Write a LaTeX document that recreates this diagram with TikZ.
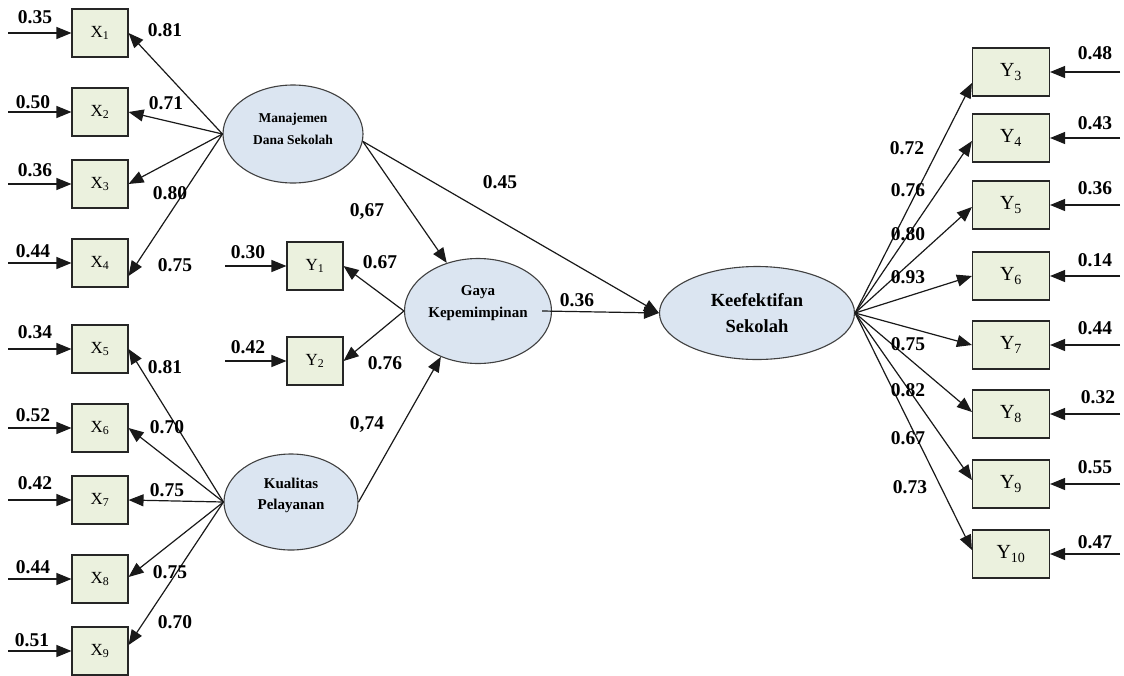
\documentclass[tikz,border=0pt]{standalone}
\usepackage{fontspec}
\setmainfont{Liberation Serif}
\usetikzlibrary{arrows.meta,shapes.geometric,calc}
\definecolor{boxfill}{HTML}{EBF1DE}
\definecolor{ellfill}{HTML}{DBE5F1}
\begin{document}
\begin{tikzpicture}[x=1pt,y=-1pt,
  obs/.style={draw=black!85, fill=boxfill, line width=1.1pt, minimum width=56pt, minimum height=48pt, inner sep=0pt, font=\fontsize{17}{20}\selectfont},
  obsr/.style={obs, minimum width=77pt, font=\fontsize{20}{24}\selectfont},
  lat/.style={ellipse, draw=black!75, fill=ellfill, line width=1.1pt, inner sep=0pt, align=center},
  num/.style={font=\fontsize{19.5}{22}\selectfont\bfseries, inner sep=0pt},
  arr/.style={draw=black!90, line width=1.2pt, -{Triangle[length=15pt,width=12pt]}}
]
\useasboundingbox (0,0) rectangle (1124,675);

% latent variables
\node[lat, minimum width=140pt, minimum height=98pt, font=\fontsize{13.5}{22}\selectfont\bfseries] (mds) at (293,134) {Manajemen\\Dana Sekolah\\[-12pt]~};
\node[lat, minimum width=147pt, minimum height=105pt, font=\fontsize{15}{22}\selectfont\bfseries] (gaya) at (478,311) {Gaya\\Kepemimpinan\\[-4pt]~};
\node[lat, minimum width=134pt, minimum height=96pt, font=\fontsize{15}{21}\selectfont\bfseries] (kp) at (291,502) {Kualitas\\Pelayanan\\[-5pt]~};
\node[lat, minimum width=195pt, minimum height=93pt, font=\fontsize{18.5}{26}\selectfont\bfseries] (keef) at (757,313) {Keefektifan\\Sekolah};

% X indicators
\foreach \i/\y in {1/33,2/112,3/184,4/263,5/349,6/428,7/500,8/579,9/651}{
  \node[obs] (x\i) at (100,\y) {X\textsubscript{\i}};
  \coordinate (ex\i) at (8,\y);
  \draw[arr] (ex\i) -- (x\i.west);
}
% Y1, Y2
\foreach \i/\y in {1/266,2/361}{
  \node[obs] (y\i) at (315,\y) {Y\textsubscript{\i}};
  \coordinate (ey\i) at (225,\y);
  \draw[arr] (ey\i) -- (y\i.west);
}
% Y3..Y10
\foreach \i/\y in {3/72,4/138,5/205,6/276,7/345,8/414,9/484,10/554}{
  \node[obsr] (y\i) at (1011,\y) {Y\textsubscript{\i}};
  \coordinate (ey\i) at (1120,\y);
  \draw[arr] (ey\i) -- (y\i.east);
}

% loadings of Manajemen Dana Sekolah
\foreach \i/\s in {1/0,2/0,3/0,4/13}{
  \draw[arr] (mds.west) -- ($(x\i.east)+(0,\s)$);
}
% loadings of Kualitas Pelayanan
\foreach \i/\s in {5/0,6/0,7/0,8/-2,9/-6}{
  \draw[arr] (kp.west) -- ($(x\i.east)+(0,\s)$);
}
% loadings of Gaya Kepemimpinan
\draw[arr] (gaya.west) -- (y1.east);
\draw[arr] (gaya.west) -- (y2.east);
% loadings of Keefektifan Sekolah
\foreach \i/\s in {3/11,4/3,5/2,6/0,7/0,8/-2,9/-4,10/-4}{
  \draw[arr] (keef.east) -- ($(y\i.west)+(0,\s)$);
}

% structural paths
\draw[arr] (mds.-6) -- (gaya.123);
\draw[arr] (mds.-6) -- (keef.west);
\draw[arr] ($(gaya.east)+(-10,0)$) -- (keef.west);
\draw[arr] (kp.east) -- (gaya.231);

% error labels left
\foreach \n/\x/\y/\t in {a1/35/17/0.35, a2/33/102/0.50, a3/35/170/0.36, a4/33/251/0.44, a5/35/332/0.34, a6/33/415/0.52, a7/35/483/0.42, a8/33/567/0.44, a9/32/640/0.51}{
  \node[num] (\n) at (\x,\y) {\t};
}
% loading labels left
\foreach \n/\x/\y/\t in {b1/165/30/0.81, b2/166/103/0.71, b3/170/193/0.80, b4/175/265/0.75, b5/165/367/0.81, b6/167/427/0.70, b7/167/490/0.75, b8/170/572/0.75, b9/175/622/0.70}{
  \node[num] (\n) at (\x,\y) {\t};
}
% middle labels
\node[num] (c1) at (367,212) {0,67};
\node[num] (c2) at (500,182) {0.45};
\node[num] (c3) at (380,262) {0.67};
\node[num] (c4) at (385,363) {0.76};
\node[num] (c5) at (577,300) {0.36};
\node[num] (c6) at (367,425) {0,74};
\node[num] (c7) at (248,252) {0.30};
\node[num] (c8) at (248,347) {0.42};
% loading labels right
\foreach \n/\x/\y/\t in {d3/907/148/0.72, d4/908/190/0.76, d5/908/234/0.80, d6/908/277/0.93, d7/908/344/0.75, d8/908/390/0.82, d9/908/438/0.67, d10/910/487/0.73}{
  \node[num] (\n) at (\x,\y) {\t};
}
% error labels right
\foreach \n/\x/\y/\t in {e3/1095/53/0.48, e4/1095/123/0.43, e5/1095/188/0.36, e6/1095/260/0.14, e7/1095/328/0.44, e8/1098/397/0.32, e9/1095/467/0.55, e10/1095/542/0.47}{
  \node[num] (\n) at (\x,\y) {\t};
}
\end{tikzpicture}
\end{document}
